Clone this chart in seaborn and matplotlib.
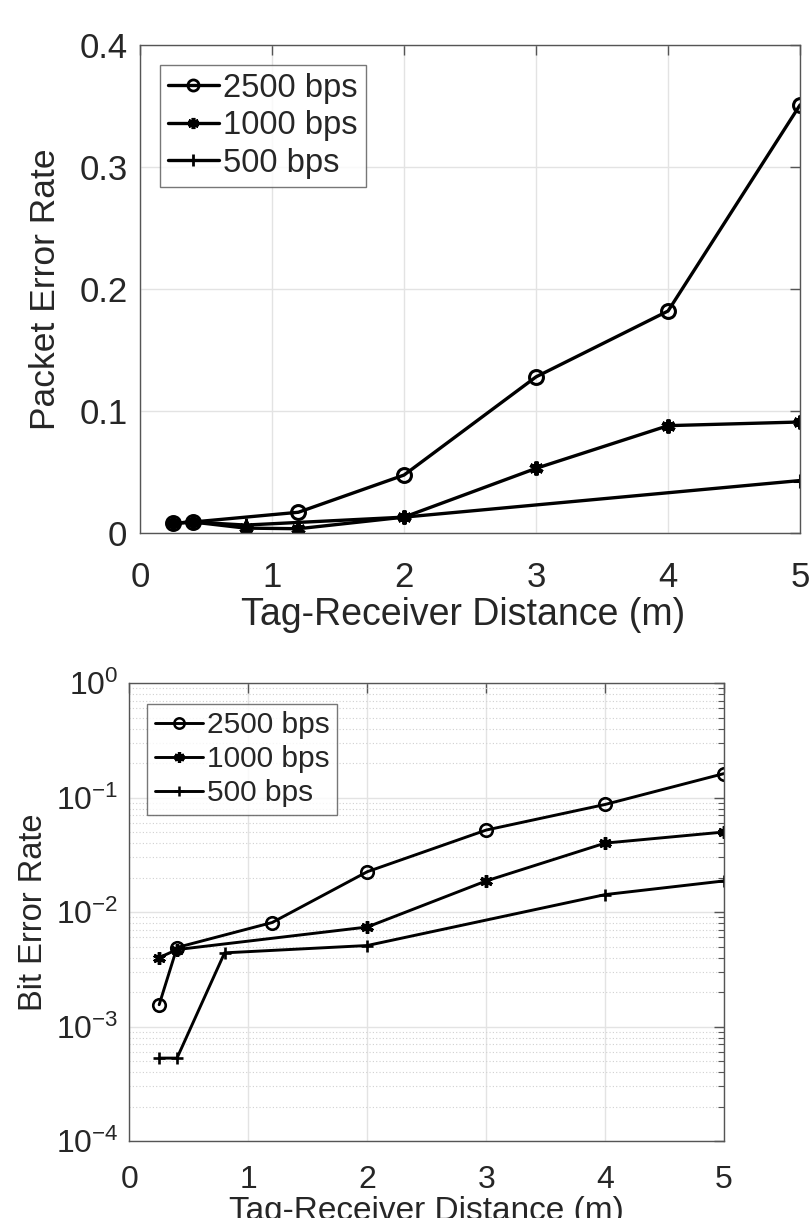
import numpy as np
import matplotlib
matplotlib.use("Agg")
import matplotlib.pyplot as plt
import seaborn as sns
from matplotlib.lines import Line2D
from matplotlib.ticker import LogLocator, NullFormatter

# Packet error rate (top panel)
per_x_2500 = [0.25, 0.4, 1.2, 2, 3, 4, 5]
per_y_2500 = [0.008, 0.009, 0.017, 0.0475, 0.128, 0.182, 0.351]
per_x_1000 = [0.25, 0.4, 0.8, 1.2, 2, 3, 4, 5]
per_y_1000 = [0.008, 0.009, 0.004, 0.0035, 0.013, 0.053, 0.088, 0.091]
per_x_500 = [0.25, 0.4, 0.8, 2, 5]
per_y_500 = [0.008, 0.009, 0.0065, 0.013, 0.043]

# Bit error rate (bottom panel)
ber_x_2500 = [0.25, 0.4, 1.2, 2, 3, 4, 5]
ber_y_2500 = [1.55e-3, 4.9e-3, 8.1e-3, 2.25e-2, 5.2e-2, 8.7e-2, 0.162]
ber_x_1000 = [0.25, 0.4, 2, 3, 4, 5]
ber_y_1000 = [4.0e-3, 4.7e-3, 7.4e-3, 1.87e-2, 4.0e-2, 5.0e-2]
ber_x_500 = [0.25, 0.4, 0.8, 2, 4, 5]
ber_y_500 = [5.3e-4, 5.3e-4, 4.4e-3, 5.1e-3, 1.42e-2, 1.87e-2]

labels = ['2500 bps', '1000 bps', '500 bps']
x_ticks = [0, 1, 2, 3, 4, 5]
per_ticks = [0, 0.1, 0.2, 0.3, 0.4]
per_tick_labels = ['0', '0.1', '0.2', '0.3', '0.4']

sns.set_style('white')
plt.rcParams['font.family'] = ['Liberation Sans', 'DejaVu Sans']
plt.rcParams['mathtext.default'] = 'regular'
plt.rcParams['axes.unicode_minus'] = False

asterisk = (6, 2, 0)
styles = [
    dict(marker='o', markerfacecolor='none', markeredgecolor='black'),
    dict(marker=asterisk, markerfacecolor='black', markeredgecolor='black'),
    dict(marker='+', markerfacecolor='black', markeredgecolor='black'),
]
spine_col = '#555555'
text_col = '#262626'


def style_axes(ax, fs):
    for s in ax.spines.values():
        s.set_color(spine_col)
        s.set_linewidth(1.0)
        s.set_visible(True)
    ax.tick_params(which='both', direction='in', top=True, right=True,
                   color=spine_col, labelcolor=text_col, labelsize=fs)
    ax.tick_params(which='major', length=7, width=1.0)
    ax.tick_params(which='minor', length=4, width=0.8)


def legend_handles(lw, ms, mew):
    hs = []
    for st in styles:
        w = mew * 1.3 if st['marker'] == asterisk else mew
        hs.append(Line2D([], [], color='black', lw=lw, markersize=ms,
                         markeredgewidth=w, **st))
    return hs


def draw(ax, series, lw, ms, mew):
    for (xs, ys), st in zip(series, styles):
        w = mew * 1.3 if st['marker'] == asterisk else mew
        sns.lineplot(x=xs, y=ys, ax=ax, color='black', lw=lw, markersize=ms,
                     markeredgewidth=w, sort=False, **st)


fig = plt.figure(figsize=(8.09, 12.18), dpi=100)

# ---------- top: packet error rate ----------
ax1 = fig.add_axes([0.173, 0.5624, 0.816, 0.4006])
draw(ax1, [(per_x_2500, per_y_2500), (per_x_1000, per_y_1000), (per_x_500, per_y_500)],
     2.4, 10, 2.2)
ax1.set_xlim(0, 5)
ax1.set_ylim(0, 0.4)
ax1.set_xticks(x_ticks)
ax1.set_yticks(per_ticks)
ax1.set_yticklabels(per_tick_labels)
ax1.grid(True, which='major', color='#e3e3e3', lw=1.0)
ax1.set_axisbelow(True)
style_axes(ax1, 25)
ax1.tick_params(axis='x', pad=20)
ax1.tick_params(axis='y', pad=9)
ax1.set_xlabel('Tag-Receiver Distance (m)', fontsize=27, color=text_col)
ax1.set_ylabel('Packet Error Rate', fontsize=25.5, color=text_col)
ax1.xaxis.set_label_coords(0.49, -0.132)
ax1.yaxis.set_label_coords(-0.118, 0.5)
leg1 = ax1.legend(legend_handles(2.4, 8, 2.0), labels, loc='upper left',
                  bbox_to_anchor=(0.03, 0.96), fontsize=23.5, frameon=True,
                  fancybox=False, handlelength=1.55, handletextpad=0.15,
                  borderpad=0.25, labelspacing=0.2, borderaxespad=0)
leg1.get_frame().set_edgecolor(spine_col)
leg1.get_frame().set_linewidth(1.0)
for t in leg1.get_texts():
    t.set_color(text_col)

# ---------- bottom: bit error rate ----------
ax2 = fig.add_axes([0.160, 0.0632, 0.735, 0.376])
draw(ax2, [(ber_x_2500, ber_y_2500), (ber_x_1000, ber_y_1000), (ber_x_500, ber_y_500)],
     2.1, 9, 1.9)
ax2.set_yscale('log')
ax2.set_xlim(0, 5)
ax2.set_ylim(1e-4, 1)
ax2.set_xticks(x_ticks)
ax2.yaxis.set_major_locator(LogLocator(base=10, numticks=10))
ax2.yaxis.set_minor_locator(LogLocator(base=10, subs=np.arange(2, 10), numticks=20))
ax2.yaxis.set_minor_formatter(NullFormatter())
ax2.grid(True, which='major', color='#e3e3e3', lw=1.0)
ax2.grid(True, which='minor', axis='y', color='#d0d0d0', lw=0.8, ls=(0, (1, 2)))
ax2.set_axisbelow(True)
style_axes(ax2, 23)
ax2.tick_params(axis='x', pad=17)
ax2.tick_params(axis='y', pad=8)
ax2.set_xlabel('Tag-Receiver Distance (m)', fontsize=24, color=text_col)
ax2.set_ylabel('Bit Error Rate', fontsize=23.5, color=text_col)
ax2.xaxis.set_label_coords(0.5, -0.12)
ax2.yaxis.set_label_coords(-0.135, 0.5)
leg2 = ax2.legend(legend_handles(2.1, 7.5, 1.8), labels, loc='upper left',
                  bbox_to_anchor=(0.03, 0.955), fontsize=21.5, frameon=True,
                  fancybox=False, handlelength=1.6, handletextpad=0.15,
                  borderpad=0.25, labelspacing=0.2, borderaxespad=0)
leg2.get_frame().set_edgecolor(spine_col)
leg2.get_frame().set_linewidth(1.0)
for t in leg2.get_texts():
    t.set_color(text_col)

fig.savefig('out.png', dpi=100, facecolor='white')
